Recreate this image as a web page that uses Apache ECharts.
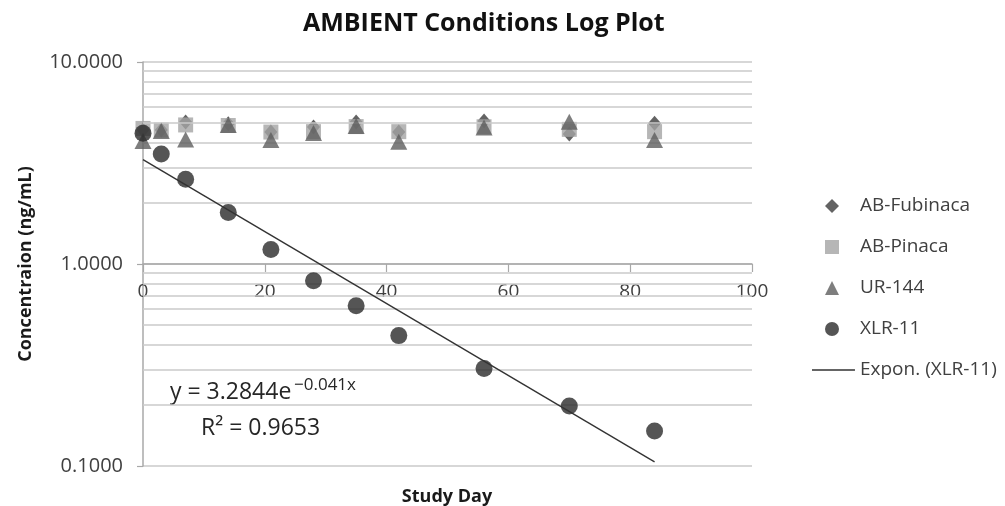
<!DOCTYPE html>
<html><head><meta charset="utf-8">
<script src="https://cdn.jsdelivr.net/npm/echarts@6/dist/echarts.min.js"></script>
<style>html,body{margin:0;padding:0;background:#fff}#c{width:1005px;height:506px}</style>
</head><body><div id="c"></div>
<script>
// ---- data ----
const days        = [0, 3, 7, 14, 21, 28, 35, 42, 56, 70, 84];
const abFubinaca  = [4.60, 4.60, 5.05, 4.95, 4.50, 4.76, 5.05, 4.50, 5.10, 4.40, 4.98];
const abPinaca    = [4.69, 4.60, 4.88, 4.85, 4.50, 4.52, 4.79, 4.52, 4.78, 4.64, 4.52];
const ur144       = [4.06, 4.55, 4.13, 4.88, 4.11, 4.45, 4.82, 4.03, 4.74, 5.06, 4.11];
const xlr11       = [4.44, 3.50, 2.63, 1.80, 1.18, 0.826, 0.622, 0.442, 0.304, 0.198, 0.149];
const trendDays   = [0, 84];
const trendValues = [3.2844, 0.1048];
const xTicks      = {min: 0, max: 100, interval: 20};
const yRange      = {min: 0.1, max: 10};
const minorGridValues = [0.2, 0.3, 0.4, 0.5, 0.6, 0.7, 0.8, 0.9, 2, 3, 4, 5, 6, 7, 8, 9];
const seriesNames = ['AB-Fubinaca', 'AB-Pinaca', 'UR-144', 'XLR-11'];
const trendName   = 'Expon. (XLR-11)';

// ---- layout ----
const W = 1005, H = 506;
const GRID = {left: 143, right: 253, top: 62, bottom: 40};
const gridH = H - GRID.top - GRID.bottom;
const FONT = '"Open Sans", sans-serif';
const AXIS_COLOR = '#a8a8a8';
const GRID_COLOR = '#cacaca';
const TEXT_COLOR = '#404040';
// thin horizontal line icon (corner dots keep the full 43x14 box so the bar stays thin)
const LINE_ICON = 'path://M0,0L0.01,0L0.01,0.01Z M43,14L43.01,14L43.01,14.01Z M0,6.3L43,6.3L43,7.7L0,7.7Z';

function pairs(xs, ys) { return xs.map((d, i) => [d, ys[i]]); }

const chart = echarts.init(document.getElementById('c'), null, {renderer: 'canvas'});
const option = {
  animation: false,
  backgroundColor: '#fff',
  grid: {left: GRID.left, right: GRID.right, top: GRID.top, bottom: GRID.bottom},
  xAxis: {
    type: 'value', min: xTicks.min, max: xTicks.max, interval: xTicks.interval,
    position: 'bottom', offset: -gridH / 2,
    axisLine: {onZero: false, lineStyle: {color: AXIS_COLOR, width: 1.5}},
    axisTick: {show: true, inside: false, length: 8, lineStyle: {color: AXIS_COLOR, width: 1.2}},
    axisLabel: {margin: 18, color: TEXT_COLOR, fontSize: 19, fontFamily: FONT},
    splitLine: {show: false}
  },
  yAxis: {
    type: 'log', logBase: 10, min: yRange.min, max: yRange.max, splitNumber: 2,
    axisLine: {show: true, lineStyle: {color: AXIS_COLOR, width: 1.5}},
    axisTick: {show: true, inside: false, length: 6, lineStyle: {color: AXIS_COLOR, width: 1.2}},
    axisLabel: {margin: 20, color: TEXT_COLOR, fontSize: 20, fontFamily: FONT,
      formatter: v => Number(v).toFixed(4)},
    splitLine: {show: true, lineStyle: {color: GRID_COLOR, width: 1.5}},
    minorTick: {show: false}, minorSplitLine: {show: false},
    name: 'Concentraion (ng/mL)', nameLocation: 'middle', nameGap: 108,
    nameTextStyle: {fontFamily: FONT, fontWeight: 'bold', fontSize: 18, color: '#1a1a1a'}
  },
  legend: [
    {
      data: seriesNames, orient: 'vertical', left: 820, top: 191,
      itemWidth: 14, itemHeight: 14, itemGap: 21,
      textStyle: {fontFamily: FONT, fontSize: 19, color: TEXT_COLOR, lineHeight: 20, padding: [0, 0, 0, 16]}
    },
    {
      data: [{name: trendName, icon: LINE_ICON}], orient: 'vertical', left: 807, top: 355,
      itemWidth: 43, itemHeight: 14,
      itemStyle: {color: '#333333'},
      textStyle: {fontFamily: FONT, fontSize: 19, color: TEXT_COLOR, lineHeight: 20}
    }
  ],
  series: [
    {
      name: '_grid', type: 'line', data: [], z: 1, silent: true,
      markLine: {
        silent: true, symbol: 'none', animation: false,
        label: {show: false},
        lineStyle: {color: GRID_COLOR, width: 1.5, type: 'solid'},
        data: minorGridValues.map(v => ({yAxis: v}))
      }
    },
    {name: seriesNames[0], type: 'scatter', z: 3, symbol: 'diamond', symbolSize: [13, 15],
     itemStyle: {color: '#3c3c3c'}, data: pairs(days, abFubinaca)},
    {name: seriesNames[1], type: 'scatter', z: 4, symbol: 'rect', symbolSize: 15,
     itemStyle: {color: '#a4a4a4'}, data: pairs(days, abPinaca)},
    {name: seriesNames[2], type: 'scatter', z: 5, symbol: 'triangle', symbolSize: [17, 16],
     itemStyle: {color: '#5e5e5e'}, data: pairs(days, ur144)},
    {name: seriesNames[3], type: 'scatter', z: 6, symbol: 'circle', symbolSize: 17,
     itemStyle: {color: '#2a2a2a'}, data: pairs(days, xlr11)},
    {name: trendName, type: 'line', z: 7, symbol: 'none', showSymbol: false,
     lineStyle: {color: '#333333', width: 1.4}, itemStyle: {color: '#333333'},
     data: pairs(trendDays, trendValues)}
  ],
  graphic: [
    {type: 'text', left: 483 - 180, top: 11, style: {text: 'AMBIENT Conditions Log Plot',
      font: 'bold 25px "Open Sans", sans-serif', fill: '#111111'}},
    {type: 'text', x: 447, y: 497, style: {text: 'Study Day', textAlign: 'center', textVerticalAlign: 'middle',
      font: 'bold 18px "Open Sans", sans-serif', fill: '#1a1a1a'}},
    {type: 'text', x: 170, y: 404, style: {text: 'y = 3.2844e', textAlign: 'left', textVerticalAlign: 'bottom',
      font: '23px "Open Sans", sans-serif', fill: '#262626'}},
    {type: 'text', x: 294, y: 377, style: {text: '\u22120.041x', textAlign: 'left', textVerticalAlign: 'top',
      font: '17px "Open Sans", sans-serif', fill: '#262626'}},
    {type: 'text', x: 201, y: 440, style: {text: 'R\u00b2 = 0.9653', textAlign: 'left', textVerticalAlign: 'bottom',
      font: '23px "Open Sans", sans-serif', fill: '#262626'}}
  ]
};
chart.setOption(option);
</script>
</body></html>
